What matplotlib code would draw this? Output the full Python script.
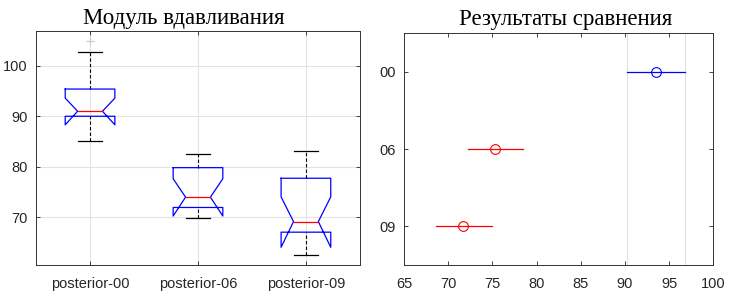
import matplotlib.pyplot as plt
import numpy as np

# boxplot stats
groups = ['posterior-00', 'posterior-06', 'posterior-09']
q1 = [90.0, 71.9, 67.0]
q3 = [95.4, 79.8, 77.7]
med = [91.0, 73.95, 69.1]
notch_lo = [88.3, 70.2, 64.0]
notch_hi = [93.6, 77.6, 74.0]
wlo = [85.1, 69.9, 62.4]
whi = [102.7, 82.5, 83.2]
outliers = [[105.0], [], []]

# multiple comparison results
cmp_labels = ['00', '06', '09']
cmp_mean = [93.55, 75.3, 71.65]
cmp_lo = [90.25, 72.2, 68.6]
cmp_hi = [96.8, 78.5, 74.9]
cmp_colors = ['blue', 'red', 'red']

tick_color = '#262626'
plt.rcParams['font.family'] = ['Liberation Sans', 'DejaVu Sans']

fig = plt.figure(figsize=(7.36, 2.97), dpi=100)
ax1 = fig.add_axes([0.049, 0.108, 0.440, 0.789])
ax2 = fig.add_axes([0.549, 0.108, 0.420, 0.780])

# --- left: notched boxplot, drawn MATLAB style
w = 0.23
for i in range(len(groups)):
    x = i + 1
    px = [x - w, x - w, x - w / 2, x - w, x - w, x + w, x + w, x + w / 2, x + w, x + w, x - w]
    py = [q3[i], notch_hi[i], med[i], notch_lo[i], q1[i], q1[i], notch_lo[i], med[i], notch_hi[i], q3[i], q3[i]]
    ax1.plot(px, py, color='blue', lw=0.9, zorder=3)
    ax1.plot([x - w / 2, x + w / 2], [med[i], med[i]], color='red', lw=0.9, zorder=4)
    ax1.plot([x, x], [q3[i], whi[i]], color='black', lw=0.8, ls=(0, (3, 2)), zorder=2)
    ax1.plot([x, x], [wlo[i], q1[i]], color='black', lw=0.8, ls=(0, (3, 2)), zorder=2)
    for v in (wlo[i], whi[i]):
        ax1.plot([x - w / 2, x + w / 2], [v, v], color='black', lw=0.9, zorder=3)
    for o in outliers[i]:
        ax1.plot(x, o, marker='+', color='#c8c8c8', ms=6, mew=0.8)

ax1.set_xlim(0.5, 3.5)
ax1.set_ylim(60.5, 107)
ax1.set_xticks([1, 2, 3])
ax1.set_xticklabels(groups)
ax1.set_yticks([70, 80, 90, 100])
ax1.grid(True, color='#e3e3e3', lw=0.8)
ax1.set_axisbelow(True)
ax1.set_title('Модуль вдавливания', family='Liberation Serif', fontsize=16.5, pad=5, x=0.455)

# --- right: comparison intervals
ypos = np.arange(1, len(cmp_labels) + 1)
ax2.axvline(cmp_lo[0], color='#e0e0e0', lw=0.8, zorder=0)
ax2.axvline(cmp_hi[0], color='#e0e0e0', lw=0.8, zorder=0)
for i in range(len(cmp_labels)):
    ax2.plot([cmp_lo[i], cmp_hi[i]], [ypos[i], ypos[i]], color=cmp_colors[i], lw=0.9)
    ax2.plot(cmp_mean[i], ypos[i], marker='o', mfc='none', mec=cmp_colors[i], ms=7, mew=0.8)
ax2.set_xlim(65, 100)
ax2.set_ylim(3.5, 0.5)
ax2.set_yticks(ypos)
ax2.set_yticklabels(cmp_labels)
ax2.set_xticks(np.arange(65, 101, 5))
ax2.set_title('Результаты сравнения', family='Liberation Serif', fontsize=16.5, pad=6, x=0.523)

for ax in (ax1, ax2):
    ax.tick_params(direction='in', length=3, width=0.6, colors=tick_color, labelsize=10.5,
                   top=True, right=True, labeltop=False, labelright=False)
    ax.tick_params(axis='x', pad=9)
    ax.tick_params(axis='y', pad=6)
    for s in ax.spines.values():
        s.set_color('#333333')
        s.set_linewidth(0.7)

fig.savefig('out.png', dpi=100)
